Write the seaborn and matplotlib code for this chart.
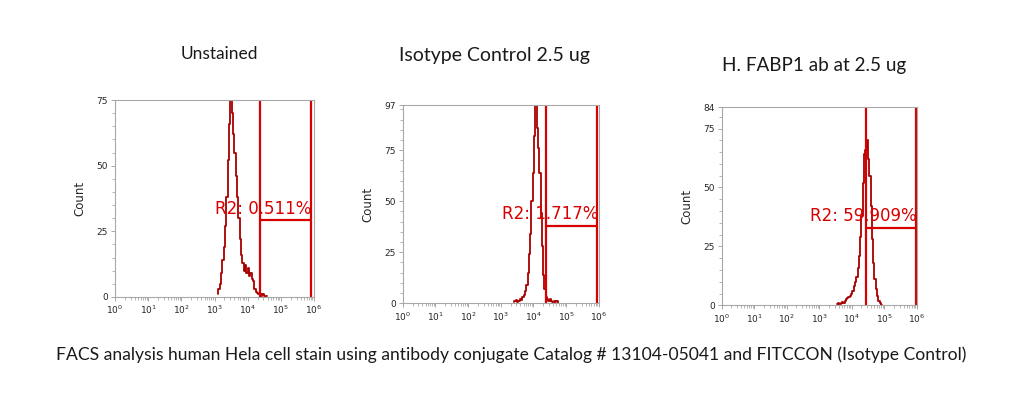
import numpy as np
import pandas as pd
import matplotlib
matplotlib.use("Agg")
import matplotlib.pyplot as plt
import seaborn as sns
from matplotlib.ticker import FixedLocator, MultipleLocator, LogLocator, NullFormatter

# ---------------- data ----------------
titles = ["Unstained", "Isotype Control 2.5 ug", "H. FABP1 ab at 2.5 ug"]
caption = "FACS analysis human Hela cell stain using antibody conjugate Catalog # 13104-05041 and FITCCON (Isotype Control)"

# log10 fluorescence bin centres (start, step 0.04 decade) and counts
unstained_start = 3.10
unstained_counts = [1, 3, 5, 9, 14, 19, 27, 38, 52, 66, 78, 70, 62, 55, 46, 38, 30, 22, 16, 13,
                    10, 12, 9, 11, 8, 9, 7, 6, 3, 2, 1.5, 1, 1, 0.5, 1, 0.5, 0.5, 0.3]
isotype_start = 3.40
isotype_counts = [0.5, 1, 1.5, 0.5, 1, 2, 1.5, 3, 4, 6, 9, 15, 24, 34, 50, 64, 82, 100, 86, 76,
                  64, 44, 28, 14, 7, 3, 2, 1, 2, 1, 0.5, 1, 0.5, 1, 0.3]
fabp1_start = 3.56
fabp1_counts = [0.5, 1, 0.5, 1, 1.5, 1, 2, 2.5, 3, 3.5, 4, 5, 6, 8, 10, 12, 16, 21, 29, 38,
                52, 64, 66, 70, 62, 55, 42, 28, 18, 11, 7, 4, 2, 1, 0.3]
bin_step = 0.04

y_max = [75, 97, 84]
y_ticks = [[0, 25, 50, 75], [0, 25, 50, 75, 97], [0, 25, 50, 75, 84]]
gate_left = [4.37, 4.40, 4.43]     # log10 position of R2 left boundary
gate_right = [5.90, 5.96, 5.98]
gate_level = [29.3, 38.0, 32.9]
gate_labels = ["R2: 0.511%", "R2: 1.717%", "R2: 59.909%"]

starts = [unstained_start, isotype_start, fabp1_start]
counts = [unstained_counts, isotype_counts, fabp1_counts]

# ---------------- figure ----------------
sns.set_theme(style="white")
plt.rcParams["font.family"] = ["DejaVu Sans"]

fig = plt.figure(figsize=(10.30, 3.97), dpi=100)
W, H = 1030, 397
boxes = [(115, 100, 314, 297), (402.7, 105.3, 598.7, 303.3), (721.7, 107.3, 916.7, 305.3)]

hist_color = "#a80000"
gate_color = "#d80000"
spine_color = "#a8a8a8"

for i in range(3):
    l, t, r, b = boxes[i]
    ax = fig.add_axes([l / W, (H - b) / H, (r - l) / W, (b - t) / H])
    n = len(counts[i])
    centers = starts[i] + bin_step * np.arange(n)
    df = pd.DataFrame({"x": 10 ** centers, "count": counts[i]})
    sns.lineplot(data=df, x="x", y="count", ax=ax, color=hist_color, lw=1.3,
                 drawstyle="steps-mid", estimator=None)
    ax.set_xscale("log")
    ax.set_xlim(1, 1e6)
    ax.set_ylim(0, y_max[i])

    # gate
    gl, gr = 10 ** gate_left[i], 10 ** gate_right[i]
    ax.axvline(gl, color=gate_color, lw=1.6)
    ax.axvline(gr, color=gate_color, lw=1.6)
    ax.plot([gl, gr], [gate_level[i], gate_level[i]], color=gate_color, lw=1.6)
    ax.annotate(gate_labels[i], xy=(gr, gate_level[i]), xytext=(0.5, 1.8),
                textcoords="offset points", ha="right", va="bottom",
                color=gate_color, fontsize=12)

    for s in ax.spines.values():
        s.set_color(spine_color)
        s.set_linewidth(0.8)

    ax.yaxis.set_major_locator(FixedLocator(y_ticks[i]))
    ax.yaxis.set_minor_locator(MultipleLocator(5))
    ax.xaxis.set_major_locator(FixedLocator([10 ** k for k in range(7)]))
    ax.xaxis.set_minor_locator(LogLocator(base=10, subs=np.arange(2, 10)))
    ax.xaxis.set_minor_formatter(NullFormatter())
    ax.set_xticklabels([r"$10^{%d}$" % k for k in range(7)])
    ax.tick_params(axis="both", which="major", direction="out", length=3, width=0.7,
                   color=spine_color, labelsize=6.5, pad=2, bottom=True, left=True)
    ax.tick_params(axis="both", which="minor", direction="out", length=2, width=0.6,
                   color=spine_color, bottom=True, left=True)
    ax.set_xlabel("")
    ax.set_ylabel("Count", fontsize=8.5, labelpad=7)
    ax.grid(False)

title_pos = [(219, 54), (494.5, 56), (814, 65)]
title_sizes = [12.5, 14, 13.6]
for (x, y), ttl, fs in zip(title_pos, titles, title_sizes):
    fig.text(x / W, 1 - y / H, ttl, ha="center", va="center", fontsize=fs,
             family=["Lato", "DejaVu Sans"], color="#1a1a1a")

fig.text(511 / W, 1 - 355 / H, caption, ha="center", va="center", fontsize=12.6,
         family=["Lato", "DejaVu Sans"], color="#1a1a1a")

fig.savefig("out.png", dpi=100, facecolor="white")
